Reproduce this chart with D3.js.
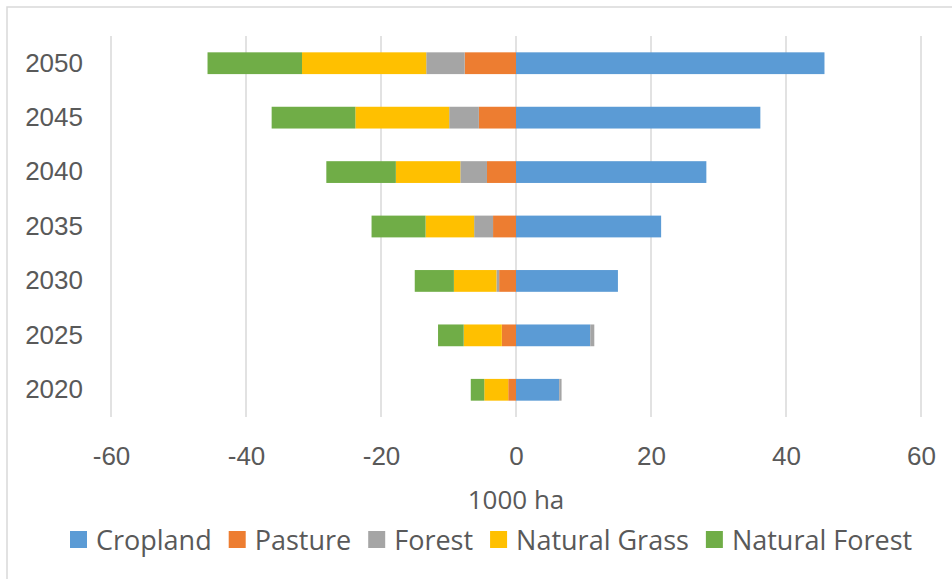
<!DOCTYPE html>
<html>
<head>
<meta charset="utf-8">
<script src="https://cdn.jsdelivr.net/npm/d3@7"></script>
<style>
  body { margin: 0; background: #fff; }
  svg { font-family: "Open Sans", "DejaVu Sans Condensed", sans-serif; }
</style>
</head>
<body>
<div id="chart"></div>
<script>
// datos (1000 ha)
const years = ['2020', '2025', '2030', '2035', '2040', '2045', '2050'];
const cropland = [6.4, 11.0, 15.1, 21.5, 28.2, 36.2, 45.7];
const pasture = [-1.15, -2.1, -2.5, -3.4, -4.3, -5.5, -7.6];
const forest = [0.35, 0.6, -0.4, -2.8, -3.95, -4.4, -5.7];
const naturalGrass = [-3.55, -5.65, -6.3, -7.2, -9.55, -13.9, -18.4];
const naturalForest = [-2.0, -3.8, -5.8, -8.0, -10.3, -12.4, -14.0];
const xTicks = [-60, -40, -20, 0, 20, 40, 60];

const seriesNames = ['Cropland', 'Pasture', 'Forest', 'Natural Grass', 'Natural Forest'];
const seriesValues = [cropland, pasture, forest, naturalGrass, naturalForest];
const colors = ['#5B9BD5', '#ED7D31', '#A5A5A5', '#FFC000', '#70AD47'];

const W = 952, H = 579;
const plot = { left: 111, right: 921, top: 36, bottom: 417 };
const fontSize = '26px';

const svg = d3.select('#chart').append('svg')
  .attr('width', W)
  .attr('height', H);

// borde del área del gráfico
svg.append('rect')
  .attr('x', 7).attr('y', 7)
  .attr('width', W + 10).attr('height', H + 10)
  .attr('fill', 'none')
  .attr('stroke', '#d9d9d9')
  .attr('stroke-width', 1.5);

const table = years.map((y, i) => {
  const row = { year: y };
  seriesNames.forEach((s, k) => { row[s] = seriesValues[k][i]; });
  return row;
});

const stack = d3.stack()
  .keys(seriesNames)
  .offset(d3.stackOffsetDiverging);
const stacked = stack(table);

const x = d3.scaleLinear()
  .domain([-60, 60])
  .range([plot.left, plot.right]);

const y = d3.scaleBand()
  .domain(years.slice().reverse())
  .range([plot.top, plot.bottom])
  .paddingInner(0.6)
  .paddingOuter(0.3);

// líneas de cuadrícula verticales
svg.append('g')
  .selectAll('line')
  .data(xTicks)
  .enter()
  .append('line')
  .attr('x1', d => x(d)).attr('x2', d => x(d))
  .attr('y1', plot.top).attr('y2', plot.bottom)
  .attr('stroke', '#d9d9d9')
  .attr('stroke-width', 1.5);

// barras apiladas
svg.append('g')
  .selectAll('g')
  .data(stacked)
  .enter()
  .append('g')
  .attr('fill', (d, i) => colors[i])
  .selectAll('rect')
  .data(d => d)
  .enter()
  .append('rect')
  .attr('x', d => x(Math.min(d[0], d[1])))
  .attr('y', d => y(d.data.year))
  .attr('width', d => Math.abs(x(d[1]) - x(d[0])))
  .attr('height', y.bandwidth());

// eje X (solo etiquetas)
const xAxis = svg.append('g')
  .attr('transform', `translate(0,${plot.bottom})`)
  .call(d3.axisBottom(x).tickValues(xTicks).tickSize(0).tickPadding(30).tickFormat(d => String(d)));
xAxis.select('.domain').remove();
xAxis.selectAll('text')
  .attr('fill', '#595959')
  .style('font-size', fontSize)
  .style('font-family', null);

// eje Y
const yAxis = svg.append('g')
  .attr('transform', `translate(${plot.left},0)`)
  .call(d3.axisLeft(y).tickSize(0).tickPadding(28));
yAxis.select('.domain').remove();
yAxis.selectAll('text')
  .attr('fill', '#595959')
  .style('font-size', fontSize)
  .style('font-family', null);

// título del eje X
svg.append('text')
  .attr('x', x(0))
  .attr('y', 509)
  .attr('text-anchor', 'middle')
  .attr('fill', '#595959')
  .style('font-size', fontSize)
  .text('1000 ha');

// leyenda
const legend = svg.append('g').attr('transform', 'translate(70,540)');
let lx = 0;
seriesNames.forEach((name, i) => {
  const item = legend.append('g').attr('transform', `translate(${lx},0)`);
  item.append('rect')
    .attr('x', 0).attr('y', -9)
    .attr('width', 17).attr('height', 17)
    .attr('fill', colors[i]);
  const t = item.append('text')
    .attr('x', 26)
    .attr('y', 10)
    .attr('fill', '#595959')
    .style('font-size', '27px')
    .text(name);
  lx += 26 + t.node().getComputedTextLength() + 17;
});
</script>
</body>
</html>
